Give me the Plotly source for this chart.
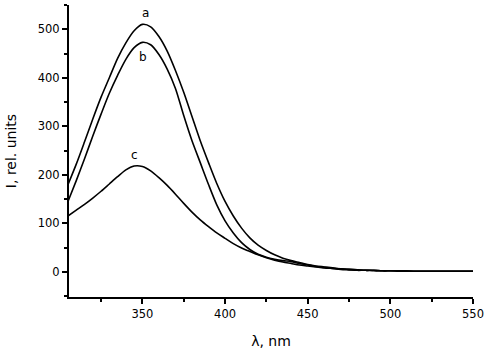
import plotly.graph_objects as go

wavelength = [305, 310, 315, 320, 325, 330, 335, 340, 345, 350, 355, 360, 365, 370, 375, 380,
              385, 390, 395, 400, 405, 410, 415, 420, 425, 430, 435, 440, 445, 450, 455, 460,
              465, 470, 475, 480, 485, 490, 495, 500, 505, 510, 515, 520, 525, 530, 535, 540,
              545, 550]

curve_a = [180, 222, 268, 315, 360, 400, 440, 472, 497, 510, 505, 485, 455, 415, 370, 320,
           270, 225, 182, 145, 115, 90, 70, 55, 44, 35, 28, 23, 19, 15, 12, 10,
           8, 6, 5, 4, 3, 3, 2, 2, 2, 1, 1, 1, 1, 1, 1, 1,
           1, 1]

curve_b = [145, 188, 233, 280, 325, 368, 405, 438, 462, 473, 468, 448, 418, 378, 322, 270,
           225, 180, 138, 105, 80, 60, 46, 36, 30, 26, 23, 21, 17, 14, 11, 9,
           7, 5, 4, 3, 3, 2, 2, 2, 1, 1, 1, 1, 1, 1, 1, 1,
           1, 1]

curve_c = [115, 127, 139, 152, 166, 181, 196, 210, 218, 217, 208, 194, 178, 160, 141, 123,
           107, 93, 80, 69, 58, 49, 42, 35, 29, 24, 20, 17, 14, 12, 10, 8,
           7, 6, 5, 4, 3, 3, 2, 2, 2, 2, 1, 1, 1, 1, 1, 1,
           1, 1]

labels = ["a", "b", "c"]
label_x = [352, 350.5, 345]
label_y = [534, 442, 241]

fig = go.Figure()
for ys in (curve_a, curve_b, curve_c):
    fig.add_trace(go.Scatter(x=wavelength, y=ys, mode="lines",
                             line=dict(color="black", width=1.6, shape="spline", smoothing=0.8),
                             showlegend=False, hoverinfo="skip"))

for t, x, y in zip(labels, label_x, label_y):
    fig.add_annotation(x=x, y=y, text=t, showarrow=False,
                       font=dict(family="DejaVu Sans", size=12, color="black"))

fig.update_layout(
    width=488, height=350,
    margin=dict(l=69, r=15, t=5, b=53),
    paper_bgcolor="white", plot_bgcolor="white",
    font=dict(family="DejaVu Sans", size=11.5, color="black"),
    xaxis=dict(range=[305.6, 550], tick0=350, dtick=50, showgrid=False, zeroline=False,
               showline=True, linecolor="black", linewidth=2.2, automargin=False,
               ticks="outside", ticklen=5, tickwidth=1.5, tickcolor="black",
               minor=dict(dtick=25, tick0=325, ticks="outside", ticklen=3, tickwidth=1.5,
                          tickcolor="black", showgrid=False),
               title=dict(text="λ, nm", font=dict(size=14), standoff=16)),
    yaxis=dict(range=[-52, 550], tick0=0, dtick=100, showgrid=False, zeroline=False,
               showline=True, linecolor="black", linewidth=2.2, automargin=False,
               ticks="outside", ticklen=5, tickwidth=1.5, tickcolor="black",
               minor=dict(dtick=50, tick0=50, ticks="outside", ticklen=3, tickwidth=1.5,
                          tickcolor="black", showgrid=False),
               title=dict(text="I, rel. units", font=dict(size=14), standoff=18)),
)

fig.write_html("out.html", config={"displayModeBar": False},
               post_script="document.body.style.margin='0';")
